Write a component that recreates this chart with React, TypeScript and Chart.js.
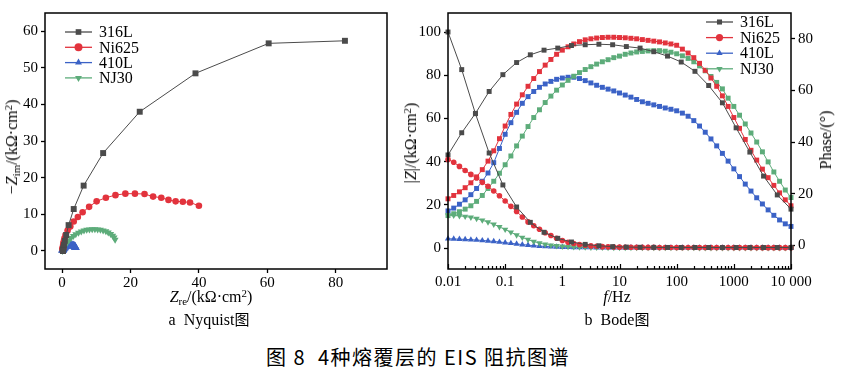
import React, { useEffect, useRef } from 'react';
import { Chart, registerables } from 'chart.js';

Chart.register(...registerables);

// ---------- series meta ----------
const SERIES = ['316L', 'Ni625', '410L', 'NJ30'];
const COLORS = ['#4b4b4b', '#e2333d', '#3b62c6', '#5dac7a'];
const MARKERS = ['rect', 'circle', 'triangle', 'triangle'];
const ROTATIONS = [0, 0, 0, 180];

// ---------- Nyquist data (kΩ·cm²) ----------
const nyq316Re = [82.7, 60.4, 39.0, 22.7, 12.0, 6.3, 3.4, 1.9, 1.2, 0.8, 0.55, 0.42, 0.35, 0.3, 0.28, 0.27, 0.26, 0.26, 0.25, 0.25, 0.24, 0.24, 0.24, 0.24, 0.24, 0.24];
const nyq316Im = [57.4, 56.7, 48.5, 38.0, 26.7, 17.8, 11.4, 7.0, 4.3, 2.7, 1.6, 0.95, 0.6, 0.35, 0.22, 0.15, 0.1, 0.08, 0.06, 0.05, 0.04, 0.03, 0.03, 0.02, 0.02, 0.01];
const nyqNi625Re = [40.0, 37.4, 35.3, 33.2, 31.1, 29.0, 26.6, 24.1, 21.3, 18.5, 15.6, 12.8, 10.1, 7.9, 6.0, 4.6, 3.4, 2.4, 1.6, 1.0, 0.7, 0.5, 0.4, 0.33, 0.29, 0.26, 0.24, 0.23, 0.22, 0.21, 0.21];
const nyqNi625Im = [12.3, 13.2, 13.4, 13.5, 13.9, 14.5, 14.8, 15.5, 15.6, 15.6, 15.2, 14.5, 13.5, 12.0, 10.5, 9.2, 8.0, 6.6, 5.5, 4.3, 3.4, 2.6, 2.0, 1.6, 1.25, 0.98, 0.78, 0.62, 0.52, 0.44, 0.38];
const nyq410Re = [3.9, 3.85, 3.78, 3.68, 3.55, 3.38, 3.18, 2.95, 2.68, 2.38, 2.05, 1.72, 1.4, 1.1, 0.85, 0.63, 0.46, 0.34, 0.26, 0.2, 0.16, 0.14];
const nyq410Im = [0.9, 0.98, 1.07, 1.16, 1.25, 1.33, 1.4, 1.45, 1.48, 1.49, 1.47, 1.4, 1.28, 1.12, 0.95, 0.77, 0.6, 0.45, 0.33, 0.24, 0.17, 0.12];
const nyqNJ30Re = [15.5, 15.2, 14.8, 14.2, 13.5, 12.8, 12.0, 11.2, 10.4, 9.6, 8.8, 8.0, 7.2, 6.4, 5.6, 4.8, 4.0, 3.3, 2.6, 2.0, 1.5, 1.0, 0.6, 0.3, 0.15, 0.1];
const nyqNJ30Im = [3.0, 3.6, 4.1, 4.6, 5.0, 5.3, 5.55, 5.7, 5.8, 5.85, 5.85, 5.8, 5.7, 5.5, 5.25, 4.9, 4.5, 4.0, 3.45, 2.85, 2.25, 1.6, 1.0, 0.5, 0.15, -0.1];

const nyqXTicks = [0, 20, 40, 60, 80];
const nyqYTicks = [0, 10, 20, 30, 40, 50, 60];

// ---------- Bode data ----------
const freqFine = [
  0.01, 0.01259, 0.01585, 0.01995, 0.02512, 0.03162, 0.03981, 0.05012, 0.0631, 0.07943,
  0.1, 0.1259, 0.1585, 0.1995, 0.2512, 0.3162, 0.3981, 0.5012, 0.631, 0.7943,
  1, 1.259, 1.585, 1.995, 2.512, 3.162, 3.981, 5.012, 6.31, 7.943,
  10, 12.59, 15.85, 19.95, 25.12, 31.62, 39.81, 50.12, 63.1, 79.43,
  100, 125.9, 158.5, 199.5, 251.2, 316.2, 398.1, 501.2, 631, 794.3,
  1000, 1259, 1585, 1995, 2512, 3162, 3981, 5012, 6310, 7943, 10000,
];
const freq316 = [0.01, 0.01738, 0.0302, 0.05248, 0.0912, 0.1585, 0.2754, 0.4786, 0.8318, 1.445, 2.512, 4.365, 7.586, 13.18, 22.91, 39.81, 69.18, 120.2, 208.9, 363.1, 631, 1096, 1905, 3311, 5754, 10000];

const z316 = [100, 82.6, 62.2, 44.0, 29.2, 19.0, 11.9, 7.3, 4.5, 2.8, 1.7, 1.05, 0.65, 0.45, 0.35, 0.3, 0.28, 0.27, 0.26, 0.25, 0.25, 0.24, 0.24, 0.24, 0.24, 0.24];
const ph316 = [35.0, 43.6, 51.1, 59.6, 66.1, 70.8, 73.8, 75.6, 76.4, 77.4, 77.7, 77.9, 77.7, 77.0, 76.4, 75.0, 73.3, 71.0, 67.4, 61.9, 55.2, 45.5, 36.1, 26.8, 19.5, 14.0];

const zNi625 = [
  41.0, 39.7, 37.8, 35.9, 34.1, 32.4, 30.4, 28.6, 26.4, 24.2,
  21.8, 19.3, 16.9, 14.4, 12.1, 10.3, 8.7, 7.1, 5.8, 4.5,
  3.5, 2.7, 2.1, 1.65, 1.3, 1.0, 0.8, 0.65, 0.55, 0.47,
  0.42, 0.38, 0.35, 0.33, 0.31, 0.3, 0.29, 0.28, 0.27, 0.27,
  0.26, 0.26, 0.25, 0.25, 0.24, 0.24, 0.23, 0.23, 0.22, 0.22,
  0.21, 0.21, 0.2, 0.2, 0.2, 0.19, 0.19, 0.19, 0.18, 0.18, 0.18,
];
const phNi625 = [
  18.0, 19.3, 20.7, 22.3, 24.2, 26.5, 29.3, 32.6, 36.6, 41.3,
  46.2, 50.7, 54.7, 58.3, 61.6, 64.6, 67.3, 69.8, 72.0, 74.0,
  75.6, 76.9, 78.0, 78.9, 79.6, 80.0, 80.3, 80.5, 80.6, 80.6,
  80.5, 80.4, 80.2, 80.0, 79.7, 79.4, 79.1, 78.8, 78.4, 78.0,
  77.5, 76.0, 74.5, 72.7, 70.5, 67.8, 64.8, 61.6, 57.9, 53.8,
  49.5, 45.3, 41.0, 36.8, 33.0, 29.5, 26.2, 23.2, 20.3, 17.6, 15.3,
];
const z410L = [
  4.3, 4.2, 4.1, 4.0, 3.85, 3.7, 3.5, 3.3, 3.05, 2.8,
  2.5, 2.2, 1.9, 1.6, 1.35, 1.1, 0.9, 0.75, 0.6, 0.5,
  0.42, 0.36, 0.32, 0.28, 0.25, 0.23, 0.21, 0.2, 0.19, 0.18,
  0.17, 0.17, 0.16, 0.16, 0.15, 0.15, 0.15, 0.14, 0.14, 0.14,
  0.13, 0.13, 0.13, 0.13, 0.12, 0.12, 0.12, 0.12, 0.12, 0.11,
  0.11, 0.11, 0.11, 0.11, 0.11, 0.1, 0.1, 0.1, 0.1, 0.1, 0.1,
];
const ph410L = [
  13.3, 14.4, 15.9, 17.6, 19.6, 22.0, 24.8, 28.0, 32.0, 37.5,
  43.0, 47.5, 51.5, 55.0, 57.6, 59.6, 61.2, 62.5, 63.5, 64.3,
  64.8, 65.1, 65.1, 64.6, 63.8, 62.9, 62.0, 61.2, 60.5, 59.8,
  59.0, 58.2, 57.4, 56.5, 55.6, 55.0, 54.4, 53.8, 53.2, 52.7,
  52.1, 51.2, 50.0, 48.3, 46.2, 43.8, 41.2, 38.5, 35.6, 32.6,
  29.6, 26.6, 23.7, 21.0, 18.4, 16.0, 13.7, 11.6, 9.8, 8.3, 7.3,
];
const zNJ30 = [
  15.2, 15.1, 14.9, 14.6, 14.2, 13.6, 12.9, 12.0, 11.0, 9.8,
  8.6, 7.3, 6.0, 4.9, 3.9, 3.0, 2.3, 1.7, 1.3, 1.0,
  0.8, 0.62, 0.5, 0.42, 0.36, 0.32, 0.28, 0.26, 0.24, 0.22,
  0.21, 0.2, 0.19, 0.18, 0.17, 0.17, 0.16, 0.16, 0.15, 0.15,
  0.14, 0.14, 0.13, 0.13, 0.12, 0.12, 0.11, 0.11, 0.1, 0.1,
  0.09, 0.09, 0.08, 0.08, 0.07, 0.07, 0.06, 0.06, 0.05, 0.05, 0.05,
];
const phNJ30 = [
  11.5, 12.2, 13.0, 14.0, 15.3, 17.0, 19.3, 22.0, 24.8, 27.9,
  31.2, 34.6, 38.5, 42.3, 46.0, 49.5, 52.5, 55.3, 57.8, 60.1,
  62.1, 63.9, 65.5, 66.9, 68.1, 69.2, 70.2, 71.1, 71.9, 72.7,
  73.3, 74.0, 74.5, 74.9, 75.1, 75.3, 75.4, 75.4, 75.2, 74.8,
  74.2, 73.4, 72.4, 71.1, 69.5, 67.6, 65.4, 63.1, 60.6, 57.0,
  53.8, 50.4, 47.0, 43.5, 40.0, 36.2, 32.3, 28.4, 24.8, 21.4, 18.5,
];

const bodeFreqTicks = [0.01, 0.1, 1, 10, 100, 1000, 10000];
const bodeFreqTickLabels = ['0.01', '0.1', '1', '10', '100', '1000', '10 000'];
const bodeZTicks = [0, 20, 40, 60, 80, 100];
const bodePhaseTicks = [0, 20, 40, 60, 80];

// ---------- helpers ----------
const SERIF = "'Liberation Serif', 'Times New Roman', serif";
const CJK = "'Noto Sans CJK SC', 'Noto Sans', sans-serif";

const zip = (xs: number[], ys: number[]) => xs.map((x, i) => ({ x, y: ys[i] }));

function drawMarker(ctx: CanvasRenderingContext2D, style: string, x: number, y: number, r: number, rot: number, color: string) {
  ctx.save();
  ctx.fillStyle = color;
  ctx.beginPath();
  if (style === 'rect') {
    const s = r * Math.SQRT1_2;
    ctx.rect(x - s, y - s, 2 * s, 2 * s);
  } else if (style === 'circle') {
    ctx.arc(x, y, r, 0, Math.PI * 2);
  } else {
    const a0 = (rot * Math.PI) / 180;
    for (let k = 0; k < 3; k++) {
      const a = a0 + (k * 2 * Math.PI) / 3;
      const px = x + Math.sin(a) * r;
      const py = y - Math.cos(a) * r;
      if (k === 0) ctx.moveTo(px, py);
      else ctx.lineTo(px, py);
    }
    ctx.closePath();
  }
  ctx.fill();
  ctx.restore();
}

const framePlugin = {
  id: 'frame',
  afterDraw(chart: any) {
    const { ctx, chartArea: a } = chart;
    ctx.save();
    ctx.strokeStyle = '#000';
    ctx.lineWidth = 1.5;
    ctx.strokeRect(a.left, a.top, a.right - a.left, a.bottom - a.top);
    ctx.restore();
  },
};

function makeLegendPlugin(anchor: 'left' | 'right', dx: number, dy: number, gap: number, r: number) {
  return {
    id: 'customLegend',
    afterDraw(chart: any) {
      const { ctx, chartArea: a } = chart;
      const x0 = anchor === 'left' ? a.left + dx : a.right - dx;
      const len = 27;
      SERIES.forEach((name, i) => {
        const y = a.top + dy + i * gap;
        ctx.save();
        ctx.strokeStyle = COLORS[i];
        ctx.lineWidth = 1.3;
        ctx.beginPath();
        ctx.moveTo(x0, y);
        ctx.lineTo(x0 + len, y);
        ctx.stroke();
        drawMarker(ctx, MARKERS[i], x0 + len / 2, y, r, ROTATIONS[i], COLORS[i]);
        ctx.fillStyle = '#000';
        ctx.font = `16px ${SERIF}`;
        ctx.textBaseline = 'middle';
        ctx.textAlign = 'left';
        ctx.fillText(name, x0 + len + 7, y + 1);
        ctx.restore();
      });
    },
  };
}

const minorTickPlugin = {
  id: 'minorTicks',
  afterDraw(chart: any) {
    const { ctx, chartArea: a, scales } = chart;
    const sx = scales.x;
    ctx.save();
    ctx.strokeStyle = '#000';
    ctx.lineWidth = 1.2;
    ctx.beginPath();
    for (let i = 0; i < bodeFreqTicks.length; i++) {
      const d = bodeFreqTicks[i];
      const px = Math.round(sx.getPixelForValue(d)) + 0.5;
      ctx.moveTo(px, a.bottom);
      ctx.lineTo(px, a.bottom - 5);
      if (i < bodeFreqTicks.length - 1) {
        for (let m = 2; m <= 9; m++) {
          const qx = Math.round(sx.getPixelForValue(d * m)) + 0.5;
          ctx.moveTo(qx, a.bottom);
          ctx.lineTo(qx, a.bottom - 3);
        }
      }
    }
    ctx.stroke();
    ctx.restore();
  },
};

const tickFont = { family: SERIF, size: 15 };
const fixedTicks = (vals: number[]) => (s: any) => {
  s.ticks = vals.map((v) => ({ value: v }));
};
const outerGrid = { drawOnChartArea: false, drawTicks: true, tickLength: 4, tickColor: '#000', tickWidth: 1.3 };

function seriesDataset(i: number, data: any[], radius: number, extra: any = {}) {
  return {
    label: SERIES[i],
    data,
    showLine: true,
    borderColor: COLORS[i],
    backgroundColor: COLORS[i],
    borderWidth: 1,
    pointStyle: MARKERS[i],
    rotation: ROTATIONS[i],
    pointRadius: radius,
    pointBorderWidth: 0,
    clip: false,
    ...extra,
  };
}

function refreshWhenFontsReady(chart: Chart) {
  const fonts: any = (document as any).fonts;
  if (!fonts || !fonts.load) return;
  Promise.all([fonts.load(`15px ${SERIF}`), fonts.load(`italic 15px ${SERIF}`)])
    .then(() => {
      try { chart.update(); } catch (e) { /* destroyed */ }
    })
    .catch(() => {});
}

function NyquistChart() {
  const ref = useRef<HTMLCanvasElement>(null);
  useEffect(() => {
    const chart = new Chart(ref.current as HTMLCanvasElement, {
      type: 'scatter',
      data: {
        datasets: [
          seriesDataset(0, zip(nyq316Re, nyq316Im), 4.2, { order: 0 }),
          seriesDataset(1, zip(nyqNi625Re, nyqNi625Im), 3.3, { order: 1 }),
          seriesDataset(2, zip(nyq410Re, nyq410Im), 5, { order: 3 }),
          seriesDataset(3, zip(nyqNJ30Re, nyqNJ30Im), 4, { order: 2 }),
        ] as any,
      },
      options: {
        responsive: false,
        animation: false,
        events: [],
        layout: { padding: { left: 5, right: 13, top: 13, bottom: 6 } },
        plugins: { legend: { display: false }, tooltip: { enabled: false } },
        scales: {
          x: {
            type: 'linear',
            min: -5,
            max: 95,
            afterBuildTicks: fixedTicks(nyqXTicks),
            afterFit: (s: any) => { s.height = 25; },
            ticks: { font: tickFont, color: '#000', padding: 1, maxRotation: 0 },
            grid: outerGrid,
            border: { display: false },
          },
          y: {
            type: 'linear',
            min: -5,
            max: 65,
            afterBuildTicks: fixedTicks(nyqYTicks),
            afterFit: (s: any) => { s.width = 40; },
            ticks: { font: tickFont, color: '#000', padding: 3 },
            grid: outerGrid,
            border: { display: false },
          },
        } as any,
      },
      plugins: [framePlugin, makeLegendPlugin('left', 20, 19, 15.3, 4)],
    });
    refreshWhenFontsReady(chart);
    return () => chart.destroy();
  }, []);
  return <canvas ref={ref} width={400} height={300} style={{ position: 'absolute', left: 0, top: 0, width: 400, height: 300 }} />;
}

function BodeChart() {
  const ref = useRef<HTMLCanvasElement>(null);
  useEffect(() => {
    const phaseSets = [
      seriesDataset(0, zip(freq316, ph316), 3.5, { yAxisID: 'y2', pointStyle: 'rect', rotation: 0, order: 4 }),
      seriesDataset(1, zip(freqFine, phNi625), 3.5, { yAxisID: 'y2', pointStyle: 'rect', rotation: 0, order: 5 }),
      seriesDataset(2, zip(freqFine, ph410L), 3.5, { yAxisID: 'y2', pointStyle: 'rect', rotation: 0, order: 7 }),
      seriesDataset(3, zip(freqFine, phNJ30), 3.5, { yAxisID: 'y2', pointStyle: 'rect', rotation: 0, order: 6 }),
    ];
    const modSets = [
      seriesDataset(0, zip(freq316, z316), 3.5, { yAxisID: 'y', order: 0 }),
      seriesDataset(1, zip(freqFine, zNi625), 2.8, { yAxisID: 'y', order: 1 }),
      seriesDataset(2, zip(freqFine, z410L), 3.6, { yAxisID: 'y', order: 3 }),
      seriesDataset(3, zip(freqFine, zNJ30), 3.6, { yAxisID: 'y', order: 2 }),
    ];
    const chart = new Chart(ref.current as HTMLCanvasElement, {
      type: 'scatter',
      data: { datasets: [...modSets, ...phaseSets] as any },
      options: {
        responsive: false,
        animation: false,
        events: [],
        layout: { padding: { left: 0, right: 6, top: 13, bottom: 6 } },
        plugins: { legend: { display: false }, tooltip: { enabled: false } },
        scales: {
          x: {
            type: 'logarithmic',
            min: 0.01,
            max: 10000,
            afterBuildTicks: fixedTicks(bodeFreqTicks),
            afterFit: (s: any) => { s.height = 25; },
            ticks: {
              font: tickFont,
              color: '#000',
              padding: 4,
              maxRotation: 0,
              autoSkip: false,
              callback: (_v: any, i: number) => bodeFreqTickLabels[i],
            },
            grid: { drawOnChartArea: false, drawTicks: false },
            border: { display: false },
          },
          y: {
            type: 'linear',
            position: 'left',
            min: -9.7,
            max: 108.8,
            afterBuildTicks: fixedTicks(bodeZTicks),
            afterFit: (s: any) => { s.width = 48; },
            ticks: { font: tickFont, color: '#000', padding: 3 },
            grid: outerGrid,
            border: { display: false },
          },
          y2: {
            type: 'linear',
            position: 'right',
            min: -9.2,
            max: 90,
            afterBuildTicks: fixedTicks(bodePhaseTicks),
            afterFit: (s: any) => { s.width = 45; },
            ticks: { font: tickFont, color: '#000', padding: 3 },
            grid: outerGrid,
            border: { display: false },
          },
        } as any,
      },
      plugins: [framePlugin, minorTickPlugin, makeLegendPlugin('right', 85, 9, 15.6, 3.6)],
    });
    refreshWhenFontsReady(chart);
    return () => chart.destroy();
  }, []);
  return <canvas ref={ref} width={442} height={300} style={{ position: 'absolute', left: 400, top: 0, width: 442, height: 300 }} />;
}

const label = (x: number, y: number, content: React.ReactNode, opts: any = {}) => (
  <div
    style={{
      position: 'absolute',
      left: x,
      top: y,
      transform: `translate(-50%, -50%)${opts.rotate ? ' rotate(-90deg)' : ''}`,
      whiteSpace: 'nowrap',
      fontFamily: opts.family || SERIF,
      fontSize: opts.size || 16,
      letterSpacing: opts.spacing || 0,
      lineHeight: 1,
      color: '#000',
    }}
  >
    {content}
  </div>
);

const subStyle: React.CSSProperties = { fontSize: '0.68em', verticalAlign: '-0.3em', lineHeight: 0 };
const supStyle: React.CSSProperties = { fontSize: '0.68em', verticalAlign: '0.5em', lineHeight: 0 };

export default function App() {
  return (
    <div style={{ position: 'absolute', left: 0, top: 0, width: 842, height: 372, background: '#fff', overflow: 'hidden' }}>
      <NyquistChart />
      <BodeChart />
      {label(12, 147, <span>−<i>Z</i><span style={subStyle}>im</span>/(kΩ·cm<span style={supStyle}>2</span>)</span>, { rotate: true })}
      {label(211, 297, <span><i>Z</i><span style={subStyle}>re</span>/(kΩ·cm<span style={supStyle}>2</span>)</span>)}
      {label(209, 319, <span>a&nbsp;&nbsp;Nyquist<span style={{ fontFamily: CJK, fontSize: 15 }}>图</span></span>)}
      {label(411, 143, <span>|<i>Z</i>|/(kΩ·cm<span style={supStyle}>2</span>)</span>, { rotate: true })}
      {label(826, 140, <span>Phase/(°)</span>, { rotate: true })}
      {label(617, 297, <span><i>f</i>/Hz</span>)}
      {label(617, 319, <span>b&nbsp;&nbsp;Bode<span style={{ fontFamily: CJK, fontSize: 15 }}>图</span></span>)}
      {label(418, 357, <span>图 8&nbsp;&nbsp;4种熔覆层的 EIS 阻抗图谱</span>, { family: CJK, size: 20, spacing: 1.5 })}
    </div>
  );
}
